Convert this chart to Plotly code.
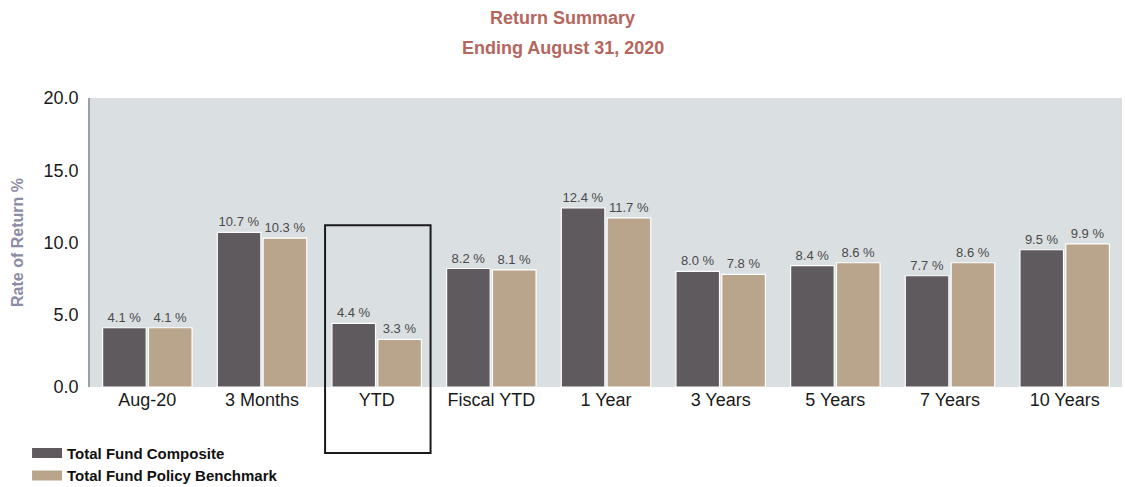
import plotly.graph_objects as go

# Return periods and returns (%)
periods = ["Aug-20", "3 Months", "YTD", "Fiscal YTD", "1 Year",
           "3 Years", "5 Years", "7 Years", "10 Years"]
composite = [4.1, 10.7, 4.4, 8.2, 12.4, 8.0, 8.4, 7.7, 9.5]
benchmark = [4.1, 10.3, 3.3, 8.1, 11.7, 7.8, 8.6, 8.6, 9.9]
y_ticks = [0, 5, 10, 15, 20]

series = [
    ("Total Fund Composite", composite, "#5f5a5e"),
    ("Total Fund Policy Benchmark", benchmark, "#b9a58b"),
]

W, H = 1125, 487
M = dict(l=90, r=3, t=98, b=100, autoexpand=False)
plot_h = H - M["t"] - M["b"]

narrow = "Liberation Sans Narrow, Arial Narrow, Liberation Sans, Arial"
label_font = dict(family=narrow, size=13, color="#4a4a4a")

fig = go.Figure()
for name, values, color in series:
    fig.add_trace(go.Bar(
        x=periods, y=values, name=name, showlegend=False,
        marker=dict(color=color, line=dict(color="white", width=1.2)),
        texttemplate="%{y:.1f} %", textposition="outside",
        textfont=label_font, cliponaxis=False,
    ))
# Legend entries drawn as wide, thick swatches
for name, values, color in series:
    fig.add_trace(go.Scatter(
        x=[None], y=[None], name=name, mode="lines",
        line=dict(color=color, width=10), hoverinfo="skip",
    ))

# Box highlighting the YTD period, extending below the axis labels
n = len(periods)
i = periods.index("YTD")
fig.add_shape(
    type="rect", xref="paper", yref="paper",
    x0=(i + 0.05) / n, x1=(i + 0.97) / n,
    y0=-66 / plot_h, y1=11.2 / 20,
    line=dict(color="#1a1a1a", width=2), fillcolor="rgba(0,0,0,0)",
)

title_font = dict(family="Liberation Sans, Arial", size=18, color="#b5665d", weight="bold")
for text, ypix in [("Return Summary", 18), ("Ending August 31, 2020", 48)]:
    fig.add_annotation(
        text=text, xref="paper", yref="paper",
        x=(W / 2 - M["l"]) / (W - M["l"] - M["r"]),
        y=(H - M["b"] - ypix) / plot_h,
        showarrow=False, font=title_font, xanchor="center", yanchor="middle",
    )

fig.update_layout(
    width=W, height=H, margin=M,
    paper_bgcolor="white", plot_bgcolor="#dadfe2",
    barmode="group", bargap=0.2, bargroupgap=0.05,
    showlegend=True,
    legend=dict(
        x=-0.061, y=-0.172, xanchor="left", yanchor="top",
        font=dict(family="Liberation Sans, Arial", size=15, color="#111111", weight="bold"),
        tracegroupgap=0, itemwidth=30, bgcolor="rgba(0,0,0,0)",
    ),
    xaxis=dict(
        tickfont=dict(family=narrow, size=18, color="#1a1a1a"),
        showgrid=False, showline=False, ticks="",
    ),
    yaxis=dict(
        range=[0, 20], tickvals=y_ticks, tickformat=".1f",
        tickfont=dict(family=narrow, size=18, color="#1a1a1a"),
        showgrid=False, zeroline=False,
        showline=True, linecolor="#9aa0a6", linewidth=1.5,
        ticks="", ticklabelstandoff=6,
        title=dict(text="Rate of Return %", standoff=16,
                   font=dict(family="Liberation Sans, Arial", size=16,
                             color="#8c8ca6", weight="bold")),
    ),
)

fig.write_html("out.html")
